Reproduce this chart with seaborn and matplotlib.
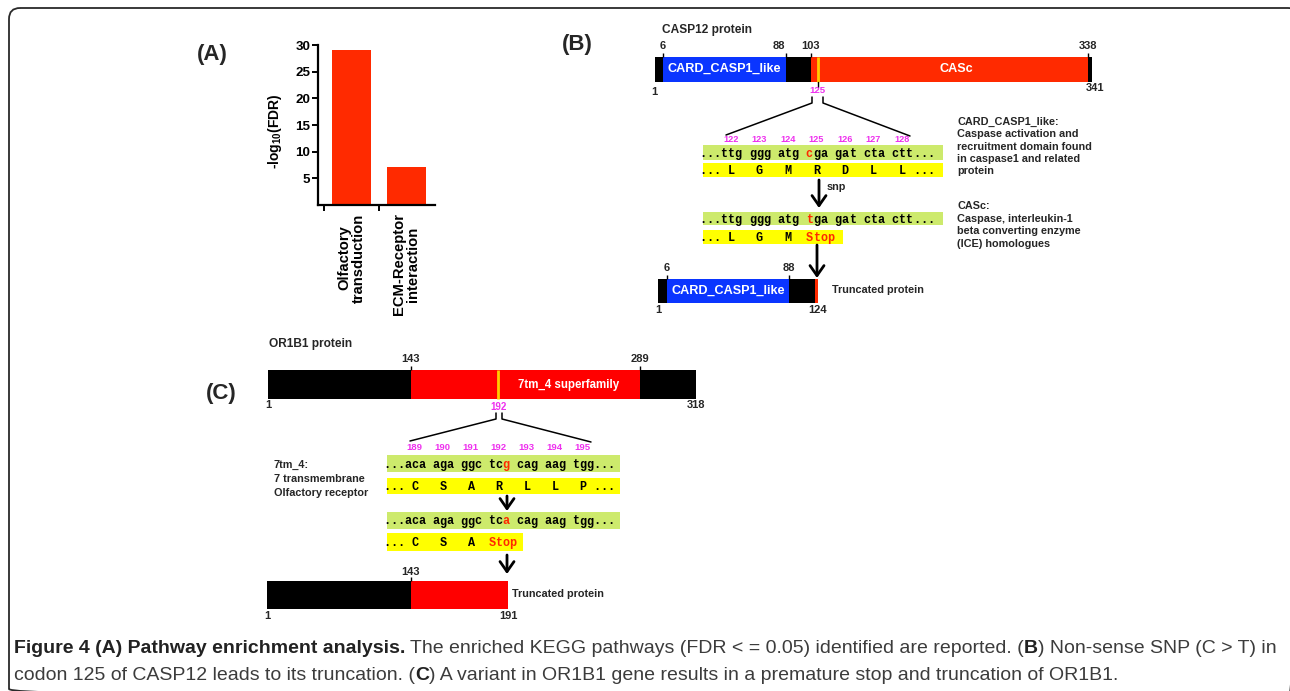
import numpy as np
import pandas as pd
import matplotlib
matplotlib.use("Agg")
import matplotlib.pyplot as plt
from matplotlib.patches import Rectangle, FancyBboxPatch
from matplotlib import font_manager
import seaborn as sns

# ---------------- data ----------------
# Panel A: enriched KEGG pathways
pathways = ["Olfactory\ntransduction", "ECM-Receptor\ninteraction"]
neg_log10_fdr = [29.0, 7.2]
fdr_ticks = [5, 10, 15, 20, 25, 30]

# Panel B: CASP12
casp12_length = 341
casp12_card = (6, 88)
casp12_casc = (103, 338)
casp12_snp = 125
casp12_trunc_end = 124
casp12_codons = [122, 123, 124, 125, 126, 127, 128]
casp12_ref_dna = "...ttg ggg atg cga gat cta ctt..."
casp12_alt_dna = "...ttg ggg atg tga gat cta ctt..."
casp12_ref_aa = "... L   G   M   R   D   L   L ..."
casp12_alt_aa = "... L   G   M  Stop"
casp12_notes = ["CARD_CASP1_like:", "Caspase activation and", "recruitment domain found",
                "in caspase1 and related", "protein"]
casc_notes = ["CASc:", "Caspase, interleukin-1", "beta converting enzyme", "(ICE) homologues"]

# Panel C: OR1B1
or1b1_length = 318
or1b1_7tm = (143, 289)
or1b1_snp = 192
or1b1_trunc_end = 191
or1b1_codons = [189, 190, 191, 192, 193, 194, 195]
or1b1_ref_dna = "...aca aga ggc tcg cag aag tgg..."
or1b1_alt_dna = "...aca aga ggc tca cag aag tgg..."
or1b1_ref_aa = "... C   S   A   R   L   L   P ..."
or1b1_alt_aa = "... C   S   A  Stop"
tm7_notes = ["7tm_4:", "7 transmembrane", "Olfactory receptor"]

caption_lines = [
    [("Figure 4 (A) Pathway enrichment analysis.", "bold"),
     (" The enriched KEGG pathways (FDR < = 0.05) identified are reported. (", "normal"),
     ("B", "bold"), (") Non-sense SNP (C > T) in", "normal")],
    [("codon 125 of CASP12 leads to its truncation. (", "normal"), ("C", "bold"),
     (") A variant in OR1B1 gene results in a premature stop and truncation of OR1B1.", "normal")],
]

# ---------------- style ----------------
RED = "#ff2a00"
RED_C = "#ff0000"
BLUE = "#0a35ff"
GREEN = "#cdea6c"
YELLOW = "#ffff00"
MAGENTA = "#ee30ee"
SNP_LINE = "#ffcc00"
SANS = "Liberation Sans"
MONO = "Liberation Mono"

sns.set_theme(style="white")
plt.rcParams["font.family"] = [SANS, "DejaVu Sans"]
plt.rcParams["mathtext.fontset"] = "custom"
plt.rcParams["mathtext.rm"] = "Liberation Sans:bold"
plt.rcParams["mathtext.it"] = "Liberation Sans:bold"
plt.rcParams["mathtext.bf"] = "Liberation Sans:bold"

W, H = 1290, 691
fig = plt.figure(figsize=(W / 100, H / 100), dpi=100)
fig.patch.set_facecolor("white")

# drawing canvas in pixel units (y downwards)
ov = fig.add_axes([0, 0, 1, 1], zorder=0)
ov.set_xlim(0, W)
ov.set_ylim(H, 0)
ov.axis("off")

# outer rounded frame
ov.add_patch(FancyBboxPatch((9, 8), 1290, 692, boxstyle="round,pad=0,rounding_size=11",
                            fill=False, ec="#2a2a2a", lw=1.3))

# ---------------- Panel A ----------------
axA = fig.add_axes([318 / W, 1 - 205 / H, 117 / W, 160 / H], zorder=2)
dfA = pd.DataFrame({"pathway": pathways, "score": neg_log10_fdr})
sns.barplot(data=dfA, x="pathway", y="score", color=RED, width=0.71, saturation=1,
            errorbar=None, linewidth=0, ax=axA)
axA.set_xlim(-0.61, 1.52)
axA.set_ylim(0, 30)
axA.set_yticks(fdr_ticks)
axA.set_xlabel("")
axA.set_ylabel(r"-log$_{10}$(FDR)", fontsize=10, fontweight="bold", color="black")
axA.yaxis.set_label_coords(-0.29, 0.46)
axA.patch.set_alpha(0)
for s in ["top", "right"]:
    axA.spines[s].set_visible(False)
for s in ["left", "bottom"]:
    axA.spines[s].set_linewidth(1.6)
    axA.spines[s].set_color("black")
axA.tick_params(axis="y", left=True, length=4, width=1.4, pad=1.5, labelsize=9.6,
                color="black", labelcolor="black")
axA.tick_params(axis="x", which="major", bottom=True, length=0, pad=6, labelsize=10.6,
                labelcolor="black")
axA.set_xticks([-0.5, 0.5], minor=True)
axA.tick_params(axis="x", which="minor", bottom=True, length=4, width=1.4, color="black")
plt.setp(axA.get_yticklabels(), fontweight="bold")
plt.setp(axA.get_xticklabels(), rotation=90, va="top", ha="center", multialignment="center",
         fontweight="bold", linespacing=1.0)

ov.text(212, 54, "(A)", fontsize=16, fontweight="bold", ha="center", va="center")
ov.text(577, 44, "(B)", fontsize=16, fontweight="bold", ha="center", va="center")
ov.text(221, 393, "(C)", fontsize=16, fontweight="bold", ha="center", va="center")


# ---------------- helpers ----------------
def protein_bar(res_pts, px_pts, y_top, y_bot, domains, top_labels, bottom_labels,
                snp=None, snp_tick=False, lab_fs=8, above=11, below=8):
    """Schematic protein track; residues mapped to x through a piecewise scale."""
    to_x = lambda r: float(np.interp(r, res_pts, px_pts))
    x0, x1 = to_x(res_pts[0]), to_x(res_pts[-1])
    ov.add_patch(Rectangle((x0, y_top), x1 - x0, y_bot - y_top, fc="black", ec="none"))
    for start, end, color in domains:
        xa, xb = to_x(start), to_x(end)
        ov.add_patch(Rectangle((xa, y_top), xb - xa, y_bot - y_top, fc=color, ec="none"))
    for res, ha in top_labels:
        x = to_x(res)
        ov.plot([x, x], [y_top - 4, y_top], color="black", lw=1.0, solid_capstyle="butt")
        xt = x - 1 if ha == "right" else x
        ov.text(xt, y_top - above, str(res), ha=ha, va="center", fontsize=lab_fs,
                fontweight="bold")
    for res in bottom_labels:
        ov.text(to_x(res), y_bot + below, str(res), ha="center", va="center",
                fontsize=lab_fs, fontweight="bold")
    if snp is not None:
        xs = to_x(snp)
        ov.plot([xs, xs], [y_top, y_bot], color=SNP_LINE, lw=2.0, solid_capstyle="butt")
        if snp_tick:
            ov.plot([xs, xs], [y_bot, y_bot + 5], color="black", lw=1.0)
    return to_x


def seq_row(first_center, cw, y, text, red_idx, fs=8.5):
    x0 = first_center - 4.5 * cw
    for i, ch in enumerate(text):
        if ch == " ":
            continue
        ov.text(x0 + (i + 0.5) * cw, y + 4, ch, ha="center", va="baseline", family=MONO,
                fontweight="bold", fontsize=fs, color=RED if i in red_idx else "black")


def diff_idx(a, b):
    return {i for i, (p, q) in enumerate(zip(a, b)) if p != q}


def stop_idx(s):
    k = s.find("Stop")
    return set(range(k, k + 4)) if k >= 0 else set()


def box(x0, x1, y0, y1, color):
    ov.add_patch(Rectangle((x0, y0), x1 - x0, y1 - y0, fc=color, ec="none"))


def arrow(x, y0, y1):
    ov.annotate("", xy=(x, y1), xytext=(x, y0),
                arrowprops=dict(arrowstyle="->,head_length=0.6,head_width=0.42", lw=2.0,
                                color="black", shrinkA=0, shrinkB=0))


def bracket(xl, xr, y0, y1, x_left_end, x_right_end, y_end):
    ov.plot([xl, xl, x_left_end], [y0, y1, y_end], color="black", lw=1.1)
    ov.plot([xr, xr, x_right_end], [y0, y1, y_end + 1], color="black", lw=1.1)


def notes(x, y, lines, step, fs=7.8):
    for k, line in enumerate(lines):
        ov.text(x, y + k * step, line, ha="left", va="center", fontsize=fs, fontweight="bold")


# ---------------- Panel B ----------------
ov.text(662, 30, "CASP12 protein", ha="left", va="center", fontsize=8.6, fontweight="bold")
toB = protein_bar([1, 6, 88, 103, 125, 338, casp12_length],
                  [655, 663, 786, 811, 817.5, 1088, 1092], 57, 82,
                  [(casp12_card[0], casp12_card[1], BLUE), (casp12_casc[0], casp12_casc[1], RED)],
                  [(6, "center"), (88, "right"), (103, "center"), (338, "center")],
                  [], snp=casp12_snp, snp_tick=True)
ov.text(654, 92, "1", ha="center", va="center", fontsize=8, fontweight="bold")
ov.text(toB(casp12_length) + 3, 88, str(casp12_length), ha="center", va="center",
        fontsize=8, fontweight="bold")
ov.text(toB(casp12_snp), 90, str(casp12_snp), ha="center", va="center", fontsize=6.8,
        fontweight="bold", color=MAGENTA)
ov.text((toB(6) + toB(88)) / 2, 69, "CARD_CASP1_like", ha="center", va="center",
        fontsize=9.1, fontweight="bold", color="white")
ov.text((toB(103) + toB(338)) / 2 + 7, 69, "CASc", ha="center", va="center",
        fontsize=9.1, fontweight="bold", color="white")

bracket(812, 823, 97, 103, 726, 910, 135)
cB, cwB = 731, 7.125
for k, num in enumerate(casp12_codons):
    ov.text(cB + 4 * k * cwB, 139, str(num), ha="center", va="center", fontsize=6.6,
            fontweight="bold", color=MAGENTA)
box(703, 943, 145, 160, GREEN)
box(703, 943, 163, 177, YELLOW)
box(703, 943, 211.5, 225, GREEN)
box(703, 843, 230, 244, YELLOW)
seq_row(cB, cwB, 152.5, casp12_ref_dna, diff_idx(casp12_ref_dna, casp12_alt_dna))
seq_row(cB, cwB, 170, casp12_ref_aa, set())
seq_row(cB, cwB, 218.5, casp12_alt_dna, diff_idx(casp12_ref_dna, casp12_alt_dna))
seq_row(cB, cwB, 237, casp12_alt_aa, stop_idx(casp12_alt_aa))
arrow(819, 180, 208)
ov.text(827, 187, "snp", ha="left", va="center", fontsize=7.8, fontweight="bold")
arrow(817, 245, 278)

toBt = protein_bar([1, 6, 88, 103, casp12_trunc_end], [658, 667, 789, 815, 818], 279, 303,
                   [(casp12_card[0], casp12_card[1], BLUE), (103, casp12_trunc_end, RED)],
                   [(6, "center"), (88, "center")], [1, casp12_trunc_end], below=7)
ov.text((toBt(6) + toBt(88)) / 2, 290.5, "CARD_CASP1_like", ha="center", va="center",
        fontsize=9.1, fontweight="bold", color="white")
ov.text(832, 290, "Truncated protein", ha="left", va="center", fontsize=7.8,
        fontweight="bold")

notes(957, 122, casp12_notes, 12.3)
notes(957, 206, casc_notes, 12.6)

# ---------------- Panel C ----------------
ov.text(269, 344, "OR1B1 protein", ha="left", va="center", fontsize=8.6, fontweight="bold")
toC = protein_bar([1, 143, 192, 289, or1b1_length], [268, 411, 498, 640, 696], 370, 399,
                  [(or1b1_7tm[0], or1b1_7tm[1], RED_C)],
                  [(143, "center"), (289, "center")], [1, or1b1_length],
                  snp=or1b1_snp, below=6)
ov.text(toC(or1b1_snp) + 1, 407, str(or1b1_snp), ha="center", va="center", fontsize=7,
        fontweight="bold", color=MAGENTA)
ov.text((toC(or1b1_snp) + toC(289)) / 2, 384.5, "7tm_4 superfamily", ha="center",
        va="center", fontsize=8.3, fontweight="bold", color="white")

bracket(496, 502, 413, 419, 410, 591, 441)
cC, cwC = 415, 7.0
for k, num in enumerate(or1b1_codons):
    ov.text(cC + 4 * k * cwC - 1, 447, str(num), ha="center", va="center", fontsize=6.8,
            fontweight="bold", color=MAGENTA)
box(387, 620, 455, 472, GREEN)
box(387, 620, 478, 494, YELLOW)
box(387, 620, 512, 529, GREEN)
box(387, 523, 533, 551, YELLOW)
seq_row(cC, cwC, 464, or1b1_ref_dna, diff_idx(or1b1_ref_dna, or1b1_alt_dna))
seq_row(cC, cwC, 486, or1b1_ref_aa, set())
seq_row(cC, cwC, 520.5, or1b1_alt_dna, diff_idx(or1b1_ref_dna, or1b1_alt_dna))
seq_row(cC, cwC, 542, or1b1_alt_aa, stop_idx(or1b1_alt_aa))
arrow(507, 496, 511)
arrow(507, 555, 574)
notes(274, 465, tm7_notes, 14)

toCt = protein_bar([1, 143, or1b1_trunc_end], [267, 411, 508], 581, 609,
                   [(or1b1_7tm[0], or1b1_trunc_end, RED_C)],
                   [(143, "center")], [1, or1b1_trunc_end], above=9, below=7)
ov.text(512, 594, "Truncated protein", ha="left", va="center", fontsize=7.8,
        fontweight="bold")

# ---------------- caption ----------------
available = {f.name for f in font_manager.fontManager.ttflist}
CAP = "Liberation Sans Narrow" if "Liberation Sans Narrow" in available else SANS
renderer = fig.canvas.get_renderer()


def advance(s, weight, fs):
    t = ov.text(0, 0, "|" + s + "|", fontsize=fs, fontweight=weight, family=CAP)
    w1 = t.get_window_extent(renderer).width
    t.set_text("||")
    w2 = t.get_window_extent(renderer).width
    t.remove()
    return w1 - w2


base = 10.0
line1_w = sum(advance(s, w, base) for s, w in caption_lines[0])
cap_fs = base * (1275 - 14) / line1_w
for y, segs in zip([653, 680], caption_lines):
    x = 14
    for s, w in segs:
        ov.text(x, y, s, fontsize=cap_fs, fontweight=w, family=CAP, ha="left",
                va="baseline", color="#222222" if w == "bold" else "#3c3c3c")
        x += advance(s, w, cap_fs)

fig.savefig("out.png", dpi=100, facecolor="white")
